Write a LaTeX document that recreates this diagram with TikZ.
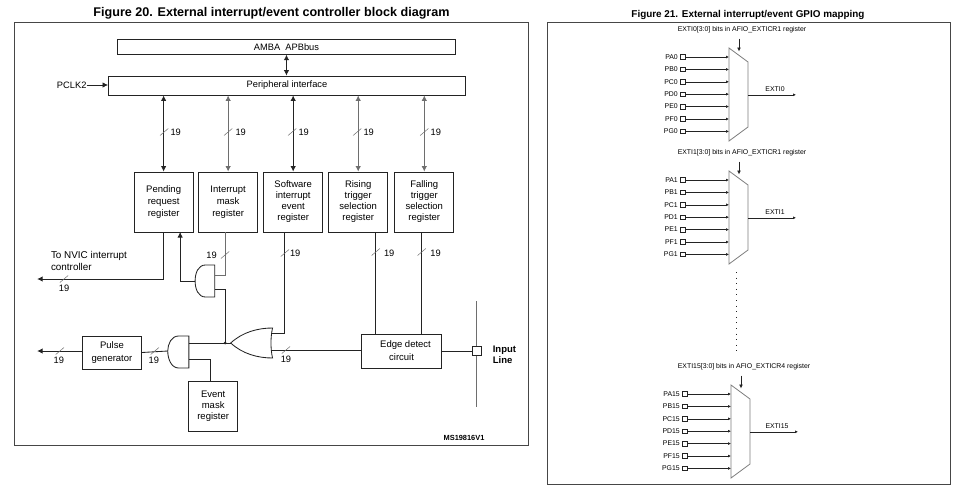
\documentclass[tikz,border=0pt]{standalone}
\usepackage{fontspec}
\setmainfont{Liberation Sans}
\usetikzlibrary{arrows.meta,positioning,calc}
\definecolor{wireblack}{RGB}{35,35,35}
\definecolor{wiregray}{RGB}{110,110,110}
\definecolor{muxgray}{RGB}{125,125,125}
\definecolor{framegray}{RGB}{70,70,70}
\tikzset{
    wire/.style={draw=wireblack, line width=0.85pt},
    graywire/.style={draw=wiregray, line width=0.85pt},
    thinwire/.style={draw=wireblack, line width=0.6pt},
    busslash/.style={draw=wiregray, line width=0.5pt},
    bigtip/.style={>={Latex[length=5.5pt,width=5.5pt]}},
    smalltip/.style={>={Latex[length=3pt,width=3pt]}},
    regbox/.style={draw=wireblack, line width=0.85pt, rectangle, align=center, inner sep=0pt, font=\fontsize{9.5}{12}\selectfont},
    tightbox/.style={regbox, font=\fontsize{9.5}{11}\selectfont},
    frame/.style={draw=framegray, line width=0.8pt},
    pinbox/.style={draw=wireblack, line width=0.55pt, rectangle, minimum size=4.5pt, inner sep=0pt},
    buslabel/.style={font=\fontsize{9.3}{10}\selectfont, inner sep=0pt},
    smalltext/.style={font=\fontsize{6.9}{8}\selectfont, inner sep=0pt},
    title/.style={inner sep=0pt}
}
\begin{document}
\begin{tikzpicture}[x=1pt, y=-1pt, bigtip]
    \useasboundingbox (0,0) rectangle (964,498);
    % left figure
    \begin{scope}[x=1.0323pt]
    \node[title, font=\fontsize{12.6}{13}\selectfont\bfseries] (titleleft) at (263,13) {Figure 20. External interrupt/event controller block diagram};
    \draw[frame] (14,22) rectangle (511.5,445);

    \node[regbox, font=\fontsize{9.3}{12}\selectfont, minimum width=338pt, minimum height=15pt] (amba) at (277.5,46.8) {AMBA\ \ APBbus};
    \node[regbox, font=\fontsize{9.3}{12}\selectfont, minimum width=357pt, minimum height=19pt] (periph) at (278,85.5) {Peripheral interface};
    \draw[wire, <->] (amba.south) -- (amba.south |- periph.north);
    \node[buslabel, anchor=west] (pclk) at (55,85) {PCLK2};
    \draw[wire, ->] (pclk.east) -- (pclk.east -| periph.west);

    \node[regbox, minimum width=59pt, minimum height=60pt] (pending) at (158.5,202) {Pending\\request\\register};
    \node[regbox, minimum width=59pt, minimum height=60pt] (maskreg) at (221,202) {Interrupt\\mask\\register};
    \node[tightbox, minimum width=59pt, minimum height=60pt] (software) at (284,202) {Software\\interrupt\\event\\register};
    \node[tightbox, minimum width=59pt, minimum height=60pt] (rising) at (347,202) {Rising\\trigger\\selection\\register};
    \node[tightbox, minimum width=59pt, minimum height=60pt] (falling) at (411,202) {Falling\\trigger\\selection\\register};
    \foreach \reg/\tone in {pending/wire,maskreg/graywire,software/wire,rising/graywire,falling/graywire}
        \draw[\tone, <->] (\reg.north) -- (\reg.north |- periph.south);

    % bus marks on the vertical wires
    \foreach \xa/\ya/\xb/\yb in {159/132/165/132, 221/132/228/132, 283/132/289/132, 346/132/352/132, 411/132/417/132} {
        \draw[busslash] (\xa-4,\ya+3.5) -- (\xa+4,\ya-3.5);
        \node[buslabel, anchor=west] at (\xb,\yb) {19};
    }

    % gates
    \coordinate (andoutup) at (189,281);
    \coordinate (andinupa) at (208,275);
    \coordinate (andinupb) at (208,289);
    \draw[wire] (208,265) -- (199,265) .. controls (192,265) and (189,273) .. (andoutup) .. controls (189,289) and (192,297) .. (199,297) -- (208,297) -- cycle;
    \coordinate (andoutlow) at (162.5,351);
    \coordinate (andinlowa) at (183,343);
    \coordinate (andinlowb) at (183,359);
    \draw[wire] (183,336) -- (173,336) .. controls (166,336) and (162.5,344) .. (andoutlow) .. controls (162.5,359) and (166,368) .. (173,368) -- (183,368) -- cycle;
    \coordinate (oroutput) at (223.5,343);
    \coordinate (orina) at (263,333);
    \coordinate (orinb) at (263,350);
    \draw[wire] (264,328) .. controls (262,337) and (262,349) .. (264,358) .. controls (250,358) and (235,354) .. (oroutput) .. controls (235,332) and (250,328) .. (264,328) -- cycle;

    \node[regbox, minimum width=80.5pt, minimum height=34pt] (edgedetect) at (389,351) {\ \ \ Edge detect\\[1pt]circuit};
    \node[regbox, minimum width=59pt, minimum height=33pt] (pulse) at (108.5,352.5) {Pulse\\[1pt]generator};
    \node[tightbox, minimum width=48.5pt, minimum height=50pt] (eventmask) at (206.5,406) {Event\\mask\\register};
    \node[pinbox, minimum size=9pt] (inputpin) at (461.5,351) {};
    \coordinate (inputtop) at (461.5,301);
    \coordinate (inputbot) at (461.5,407);
    \coordinate (junction) at (218,343);
    \coordinate (nvicend) at (36,279);
    \coordinate (pulseend) at (36,351);

    % wires
    \draw[wire, ->] (pending.south -| 158,0) |- (nvicend);
    \draw[wire, ->] (andoutup) -| (174.5,232);
    \draw[graywire] (maskreg.south -| 218,0) |- (andinupa);
    \draw[wire] (junction) |- (andinupb);
    \draw[wire] (oroutput) -- (andinlowa);
    \draw[wire] (andinlowb) -| (eventmask.north -| 204,0);
    \draw[wire] (software.south -| 276,0) |- (orina);
    \draw[wire] (orinb) -- (orinb -| edgedetect.west);
    \draw[wire] (rising.south -| 364,0) -- (364,334);
    \draw[wire] (falling.south -| 408.5,0) -- (408.5,334);
    \draw[wire] (edgedetect.east) -- (inputpin.west);
    \draw[graywire] (inputtop) -- (inputpin.north);
    \draw[graywire] (inputpin.south) -- (inputbot);
    \draw[wire] (andoutlow) -- (pulse.east);
    \draw[wire, ->] (pulse.west |- pulseend) -- (pulseend);
    \fill[wireblack] (junction) circle (1.5pt);

    \node[regbox, draw=none, font=\fontsize{9.9}{12}\selectfont, anchor=north west, align=left] (nvic) at (49,251) {To NVIC interrupt\\controller};
    \node[regbox, draw=none, font=\fontsize{9.5}{11}\selectfont\bfseries, align=left, anchor=west] (inputline) at (477,354.5) {Input\\Line};
    \node[font=\fontsize{7.4}{8}\selectfont\bfseries, inner sep=0pt] (msref) at (449.5,437.5) {MS19816V1};

    \foreach \xa/\ya/\xb/\yb in {218/255/205/255, 276/253/286/253, 364/252/377/253, 408.5/252/422/253, 62/279/62/288, 58/351/57/360, 150/351/149/360, 277/350/277/359} {
        \draw[busslash] (\xa-4,\ya+3.5) -- (\xa+4,\ya-3.5);
        \node[buslabel] at (\xb,\yb) {19};
    }
    \end{scope}

    % right figure
    \node[title, font=\fontsize{9.9}{12}\selectfont\bfseries] (titleright) at (748,15) {Figure 21. External interrupt/event GPIO mapping};
    \draw[frame] (547,22) rectangle (950,484);

    \foreach \sel/\top/\mx/\nm/\cr in {0/48/729/0/1, 1/171/729/1/1, 15/385/731/15/4} {
        \pgfmathsetmacro{\mr}{\mx+19}
        \pgfmathsetmacro{\mt}{\top+14}
        \pgfmathsetmacro{\mb}{\top+79}
        \pgfmathsetmacro{\mbot}{\top+93}
        \pgfmathsetmacro{\mmid}{\top+46.8}
        \pgfmathsetmacro{\mtxt}{\top-18}
        \pgfmathsetmacro{\maend}{\top+3.5}
        \draw[draw=muxgray, line width=0.8pt] (\mx,\top) -- (\mr,\mt) -- (\mr,\mb) -- (\mx,\mbot) -- cycle;
        \node[smalltext] (sel\sel) at (\mx+13,\mtxt) {EXTI\nm[3:0] bits in AFIO\_EXTICR\cr\ register};
        \coordinate (selend\sel) at (\mx+10,\maend);
        \draw[wire, ->, >={Latex[length=4pt,width=4pt]}] ($(selend\sel)+(0,-13)$) -- (selend\sel);
        \coordinate (out\sel) at (\mr,\mmid);
        \coordinate (outend\sel) at (\mx+67,\mmid);
        \draw[thinwire, smalltip, ->] (out\sel) -- (outend\sel);
        \node[smalltext, anchor=south] (outlabel\sel) at (\mr+27,\mmid-3) {EXTI\nm};
        \foreach \port [count=\i from 0] in {A,B,C,D,E,F,G} {
            \pgfmathsetmacro{\py}{\top+9+\i*12.4}
            \node[pinbox] (pin\sel\port) at (\mx-46,\py) {};
            \node[smalltext, anchor=east, left=2.5pt of pin\sel\port] (pinname\sel\port) {P\port\nm};
            \coordinate (muxin\sel\port) at (\mx,\py);
            \draw[thinwire, smalltip, ->] (pin\sel\port.east) -- (muxin\sel\port);
        }
    }
    \coordinate (dotstop) at (736,272);
    \coordinate (dotsbot) at (736,355);
    \draw[wireblack, line width=0.9pt, dash pattern=on 1pt off 4.6pt] (dotstop) -- (dotsbot);
\end{tikzpicture}
\end{document}
